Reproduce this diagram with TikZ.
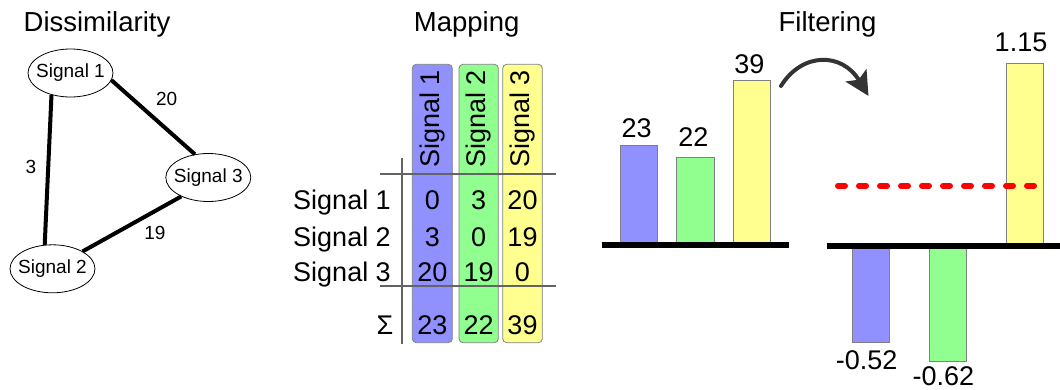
\documentclass[tikz,border=0pt]{standalone}
\usepackage{fontspec}
\setmainfont{Liberation Sans}
\usetikzlibrary{arrows.meta,shapes.geometric}
\definecolor{cblue}{RGB}{144,144,255}
\definecolor{cgreen}{RGB}{144,255,144}
\definecolor{cyellow}{RGB}{255,255,144}
\definecolor{barline}{RGB}{128,128,128}
\definecolor{tabline}{RGB}{100,100,100}
\definecolor{arrowgray}{RGB}{51,51,51}
\newcommand{\fsz}[1]{\fontsize{#1}{#1}\selectfont}
\begin{document}
\begin{tikzpicture}[x=1pt,y=-1pt,
  title/.style={font=\fsz{27.5}, inner sep=0pt, text height=19.7pt, text depth=0pt},
  lbl/.style={font=\fsz{27}, inner sep=0pt, text height=19.3pt, text depth=0pt},
  rlbl/.style={font=\fsz{27}, inner sep=0pt},
  glbl/.style={font=\fsz{19}, inner sep=0pt, text height=13.6pt, text depth=0pt},
  sig/.style={ellipse, draw=black, line width=0.8pt, fill=white, font=\fsz{19},
    inner xsep=-8pt, inner ysep=0pt, minimum width=85pt, minimum height=48pt},
  edge/.style={line width=4pt, black},
  col/.style={draw=barline, line width=0.8pt, rounded corners=4pt},
  bar/.style={draw=barline, line width=1pt},
  axis/.style={line width=6pt, black},
  tline/.style={line width=2pt, tabline},
]
\useasboundingbox (0,0) rectangle (1060,389);

% ---------- Dissimilarity ----------
\node[title] (t1) at (97,21.5) {Dissimilarity};
\node[sig] (s1) at (70.5,73) {Signal 1};
\node[sig] (s3) at (208.3,177.5) {Signal 3};
\node[sig] (s2) at (52.5,268.8) {Signal 2};
\draw[edge] (s1.229) -- (s2.108);
\draw[edge] (s1.350) -- (s3.120);
\draw[edge] (s2.30) -- (s3.215);
\node[glbl] (e12) at (31,166.7) {3};
\node[glbl] (e13) at (166.7,99) {20};
\node[glbl] (e23) at (155,232.3) {19};

% ---------- Mapping ----------
\node[title] (t2) at (466.7,21.7) {Mapping};
\draw[col, fill=cblue]   (412.3,64.3) rectangle (452.3,342.7);
\draw[col, fill=cgreen]  (459,64.3) rectangle (498.3,342.7);
\draw[col, fill=cyellow] (502.7,64.3) rectangle (542.3,342.7);
\node[rlbl, rotate=90] (c1) at (432.3,119) {Signal 1};
\node[rlbl, rotate=90] (c2) at (478.7,119) {Signal 2};
\node[rlbl, rotate=90] (c3) at (522.5,119) {Signal 3};
\node[lbl, anchor=east] (r1) at (391,200) {Signal 1};
\node[lbl, anchor=east] (r2) at (391,236.7) {Signal 2};
\node[lbl, anchor=east] (r3) at (391,271.7) {Signal 3};
\node[lbl] (rs) at (385,325) {Σ};
\foreach \v/\x/\y/\n in {0/432.3/200/a11, 3/478.7/200/a12, 20/522.5/200/a13,
                         3/432.3/236.7/a21, 0/478.7/236.7/a22, 19/522.5/236.7/a23,
                         20/432.3/271.7/a31, 19/478.7/271.7/a32, 0/522.5/271.7/a33,
                         23/432.3/325/b1, 22/478.7/325/b2, 39/522.5/325/b3}
  \node[lbl] (\n) at (\x,\y) {\v};
\draw[tline] (380,173.7) -- (556,173.7);
\draw[tline] (380,286) -- (556,286);
\draw[tline] (402.3,157.7) -- (402.3,344);

% ---------- Filtering ----------
\node[title] (t3) at (827.5,21.7) {Filtering};
\draw[bar, fill=cblue]   (620.3,145.7) rectangle (657.7,245);
\draw[bar, fill=cgreen]  (676.3,157.7) rectangle (714,245);
\draw[bar, fill=cyellow] (733.3,80.3) rectangle (770.3,245);
\draw[axis] (601.7,245) -- (789,245);
\node[lbl] (v1) at (636.7,127.7) {23};
\node[lbl] (v2) at (693.3,137) {22};
\node[lbl] (v3) at (749.3,64) {39};

\coordinate (arS) at (781,86);
\coordinate (arE) at (868.5,96);
\draw[line width=4pt, arrowgray, line cap=round, -{Stealth[length=24pt,width=24pt,inset=5pt]}]
  (arS) .. controls (802,52) and (842,52) .. (arE);

\draw[bar, fill=cyellow] (1006.7,63.3) rectangle (1043.3,246);
\draw[bar, fill=cblue]   (852.3,246) rectangle (889.3,342);
\draw[bar, fill=cgreen]  (929.3,246) rectangle (966.3,361);
\draw[axis] (826.7,246) -- (1062,246);
\draw[red, line width=6pt, line cap=round, dash pattern=on 7pt off 14pt] (838,185.7) -- (1036,185.7);
\node[lbl] (w3) at (1021,42.3) {1.15};
\node[lbl] (w1) at (866.7,360) {-0.52};
\node[lbl] (w2) at (943.3,375.5) {-0.62};
\end{tikzpicture}
\end{document}
